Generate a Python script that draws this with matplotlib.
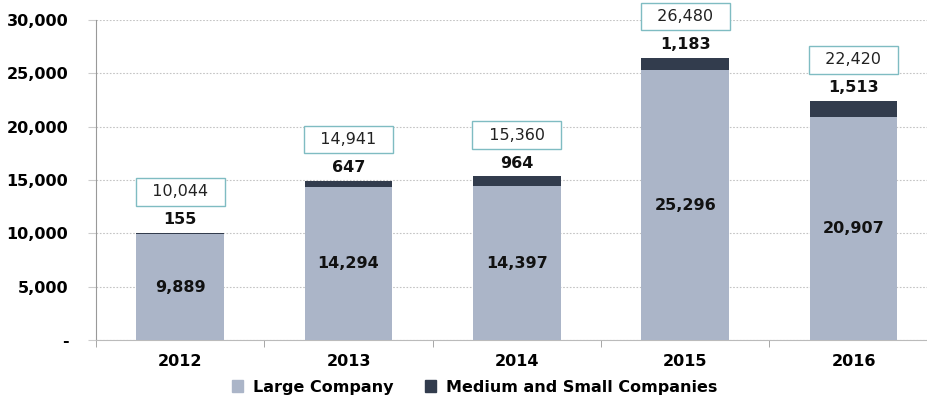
import numpy as np
import matplotlib.pyplot as plt
from matplotlib.patches import Patch

years = ['2012', '2013', '2014', '2015', '2016']
large = [9889, 14294, 14397, 25296, 20907]
small = [155, 647, 964, 1183, 1513]
totals = [10044, 14941, 15360, 26480, 22420]
y_ticks = [0, 5000, 10000, 15000, 20000, 25000, 30000]
y_tick_labels = ['-', '5,000', '10,000', '15,000', '20,000', '25,000', '30,000']

c_large = '#abb5c8'
c_small = '#323c4d'

fig = plt.figure(figsize=(9.27, 3.99), dpi=100)
ax = fig.add_axes([0.1036, 0.148, 0.908, 0.802])

x = np.arange(len(years))
w = 0.52
ax.bar(x, large, w, color=c_large, zorder=3)
ax.bar(x, small, w, bottom=large, color=c_small, zorder=3)

for i in range(len(years)):
    ax.text(x[i], large[i] / 2, f'{large[i]:,}', ha='center', va='center',
            fontsize=11.5, fontweight='bold', color='#111111', zorder=4)
    ax.annotate(f'{small[i]:,}', (x[i], totals[i]), xytext=(0, 13),
                textcoords='offset pixels', ha='center', va='center',
                fontsize=11.5, fontweight='bold', color='#111111')
    # boxed total above each stack
    ax.annotate(f'\u00a0\u00a0{totals[i]:,}\u00a0\u00a0', (x[i], totals[i]), xytext=(0, 41),
                textcoords='offset pixels', ha='center', va='center',
                fontsize=11.5, color='#222222',
                bbox=dict(boxstyle='square,pad=0.4', fc='white', ec='#7fbcc2', lw=1))

ax.set_xlim(-0.5, len(years) - 0.5)
ax.set_ylim(0, 30000)
ax.set_yticks(y_ticks)
ax.set_yticklabels(y_tick_labels, fontsize=11.5, fontweight='bold')
ax.set_xticks(x)
ax.set_xticklabels(years, fontsize=11.5, fontweight='bold')
ax.set_xticks(np.arange(-0.5, len(years)), minor=True)
ax.tick_params(axis='x', which='major', length=0, pad=10)
ax.tick_params(axis='x', which='minor', length=5, color='#999999')
ax.tick_params(axis='y', length=6, color='#cccccc', pad=14)

ax.grid(axis='y', linestyle=(0, (1.5, 1.5)), color='#c4c4c4', lw=0.8, zorder=0)
for s in ['top', 'right']:
    ax.spines[s].set_visible(False)
ax.spines['left'].set_color('#999999')
ax.spines['bottom'].set_color('#bbbbbb')

handles = [Patch(color=c_large, label='Large Company'),
           Patch(color=c_small, label='Medium and Small Companies')]
fig.legend(handles=handles, loc='center', bbox_to_anchor=(0.512, 0.03), ncol=2,
           frameon=False, prop={'size': 11.5, 'weight': 'bold'},
           handlelength=0.7, handleheight=0.7, columnspacing=2.0, handletextpad=0.6)

fig.savefig('out.png', dpi=100)
